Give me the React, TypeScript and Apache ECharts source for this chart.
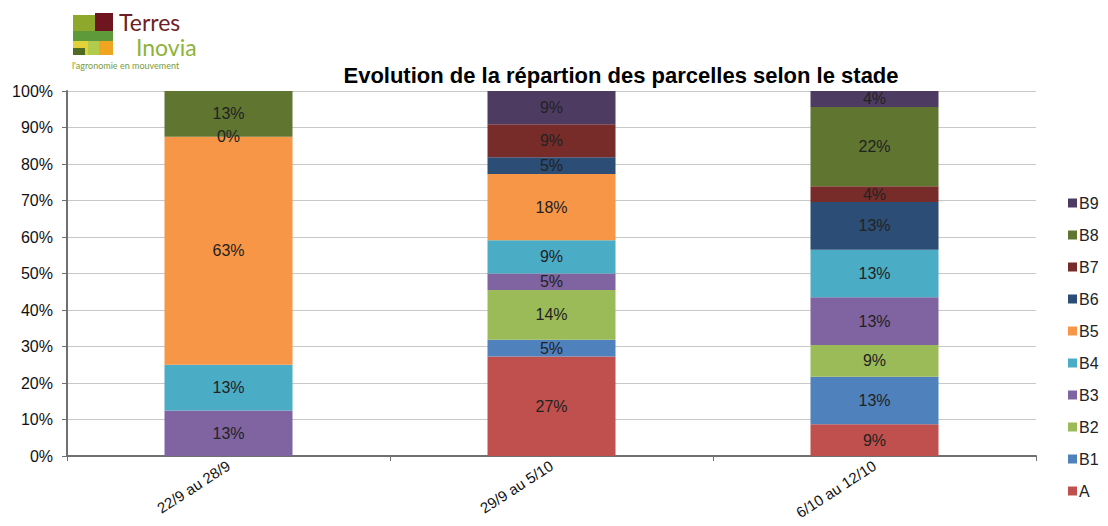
import React, { useEffect, useRef } from "react";
import * as echarts from "echarts";

const categories = ["22/9 au 28/9", "29/9 au 5/10", "6/10 au 12/10"];
const seriesNames = ["A", "B1", "B2", "B3", "B4", "B5", "B6", "B7", "B8", "B9"];
const colors = ["#C0504D", "#4F81BD", "#9BBB59", "#8064A2", "#4BACC6", "#F79646", "#2C4D75", "#772C2A", "#5F7530", "#4D3B62"];
const A = [null, 27.27, 8.7];
const B1 = [null, 4.55, 13.04];
const B2 = [null, 13.64, 8.7];
const B3 = [12.5, 4.55, 13.04];
const B4 = [12.5, 9.09, 13.04];
const B5 = [62.5, 18.18, null];
const B6 = [null, 4.55, 13.04];
const B7 = [0, 9.09, 4.35];
const B8 = [12.5, null, 21.74];
const B9 = [null, 9.09, 4.35];
const yTicks = [0, 10, 20, 30, 40, 50, 60, 70, 80, 90, 100];
const title = "Evolution de la répartion des parcelles selon le stade";

export default function App() {
  const ref = useRef<HTMLDivElement>(null);
  useEffect(() => {
    const chart = echarts.init(ref.current!, null, { renderer: "svg" });
    const values = [A, B1, B2, B3, B4, B5, B6, B7, B8, B9];
    const font = "'Liberation Sans', Arial, sans-serif";
    chart.setOption({
      animation: false,
      textStyle: { fontFamily: font },
      title: {
        text: title,
        left: 616,
        textAlign: "center",
        top: 59,
        textStyle: { fontSize: 22, fontWeight: "bold", color: "#000", fontFamily: font },
      },
      legend: {
        orient: "vertical",
        left: 1068,
        top: 195,
        padding: 0,
        itemWidth: 9,
        itemHeight: 9,
        itemGap: 16,
        icon: "rect",
        data: seriesNames.slice().reverse(),
        textStyle: { fontSize: 16, color: "#222", padding: [0, 0, 0, -3] },
      },
      grid: { left: 67, right: 72, top: 91, bottom: 70, containLabel: false, outerBoundsMode: "none" },
      xAxis: {
        type: "category",
        data: categories,
        axisLine: { lineStyle: { color: "#707070", width: 2 } },
        axisTick: { show: true, alignWithLabel: false, length: 5, lineStyle: { color: "#707070" } },
        axisLabel: { rotate: 33, fontSize: 15, color: "#111", margin: 8, interval: 0 },
      },
      yAxis: {
        type: "value",
        min: 0,
        max: 100,
        interval: 10,
        axisLine: { show: true, lineStyle: { color: "#707070", width: 2 } },
        axisTick: { show: true, length: 5, lineStyle: { color: "#707070" } },
        axisLabel: {
          fontSize: 16,
          color: "#111",
          margin: 14,
          formatter: (v: number) => (yTicks.includes(v) ? v + "%" : ""),
        },
        splitLine: { lineStyle: { color: "#c8c8c8", width: 1 } },
      },
      series: seriesNames.map((n, i) => ({
        name: n,
        type: "bar",
        stack: "total",
        barWidth: 128,
        data: values[i],
        itemStyle: { color: colors[i] },
        label: {
          show: true,
          position: "inside",
          fontSize: 16,
          color: "#222",
          formatter: (p: any) => (p.value == null ? "" : Math.round(p.value) + "%"),
        },
      })),
      graphic: [
        { type: "rect", shape: { x: 73, y: 15, width: 22, height: 16 }, style: { fill: "#8EA82C" } },
        { type: "rect", shape: { x: 95, y: 13, width: 18, height: 18 }, style: { fill: "#6E1520" } },
        { type: "rect", shape: { x: 73, y: 31, width: 40, height: 10 }, style: { fill: "#5E9A3A" } },
        { type: "rect", shape: { x: 73, y: 41, width: 15, height: 14 }, style: { fill: "#E2D23A" } },
        { type: "rect", shape: { x: 88, y: 41, width: 11, height: 14 }, style: { fill: "#B3CB4C" } },
        { type: "rect", shape: { x: 99, y: 41, width: 14, height: 14 }, style: { fill: "#EFA521" } },
        { type: "rect", shape: { x: 73, y: 48, width: 12, height: 7 }, style: { fill: "#4E6B24" } },
        { type: "text", x: 119, y: 10, style: { text: "Terres", fontSize: 23, fill: "#6E1E24", fontFamily: "Lato, sans-serif" } },
        { type: "text", x: 136, y: 35, style: { text: "Inovia", fontSize: 23, fill: "#8DB33B", fontFamily: "Lato, sans-serif" } },
        { type: "text", x: 72, y: 61, style: { text: "l'agronomie en mouvement", fontSize: 9, fill: "#7A9A3A", fontFamily: "Lato, sans-serif" } },
      ],
    });
    return () => chart.dispose();
  }, []);
  return <div ref={ref} style={{ width: 1108, height: 526, position: "absolute", left: 0, top: 0, background: "#fff" }} />;
}
